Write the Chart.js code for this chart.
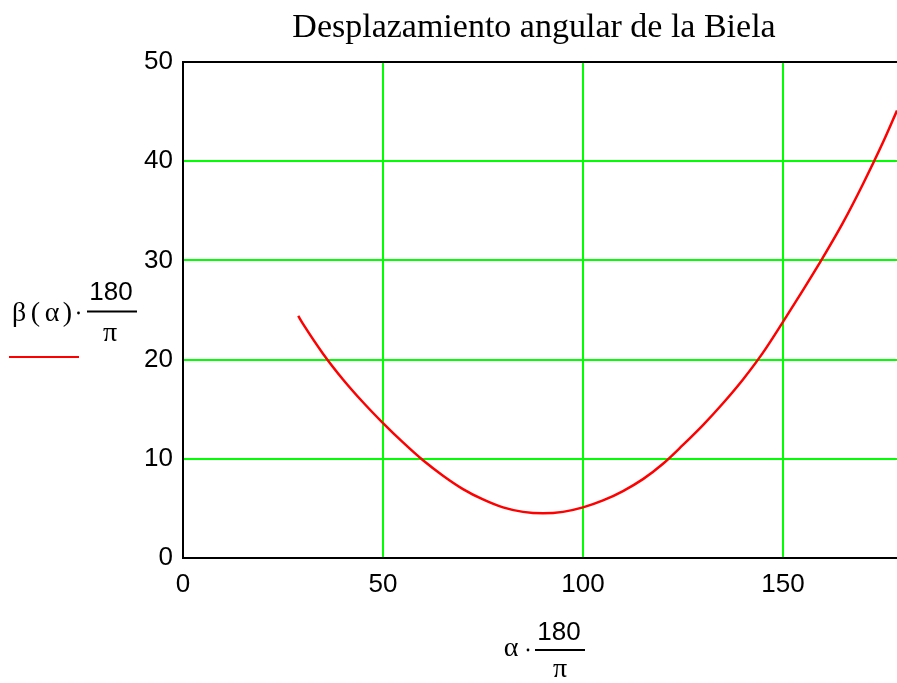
<!DOCTYPE html>
<html>
<head>
<meta charset="utf-8">
<script src="https://cdn.jsdelivr.net/npm/chart.js@4/dist/chart.umd.min.js"></script>
<style>
  html, body { margin: 0; padding: 0; background: #fff; }
  #wrap { width: 897px; height: 683px; position: relative; }
</style>
</head>
<body>
<div id="wrap"><canvas id="chart"></canvas></div>
<script>
// Desplazamiento angular de la biela (degrees)
const alphaDeg = [28.8, 30, 35, 40, 45, 50, 55, 60, 65, 70, 75, 80, 85, 90, 95, 100, 105, 110,
                  115, 120, 125, 130, 135, 140, 145, 150, 155, 160, 165, 170, 175, 178.5];
const betaDeg  = [24.4, 23.6, 20.6, 18.0, 15.7, 13.6, 11.65, 9.85, 8.3, 6.95, 5.9, 5.1, 4.65, 4.5, 4.65, 5.1, 5.8, 6.75,
                  7.95, 9.5, 11.4, 13.4, 15.6, 18.0, 20.7, 23.8, 27.0, 30.3, 33.8, 37.7, 41.9, 45.1];

const titleText = 'Desplazamiento angular de la Biela';
const xRange = [0, 178.5];
const yRange = [0, 50];
const xStep = 50;
const yStep = 10;

const points = alphaDeg.map((a, i) => ({ x: a, y: betaDeg[i] }));

const SANS = "'Liberation Sans', Arial, sans-serif";
const SERIF = "'Liberation Serif', 'Times New Roman', serif";

// title, top frame line, Mathcad-style axis labels and legend stroke
const decorations = {
    id: 'decorations',
    afterDraw(chart) {
        const c = chart.ctx;
        const area = chart.chartArea;
        c.save();

        // top frame line
        c.strokeStyle = '#000';
        c.lineWidth = 2;
        c.beginPath();
        c.moveTo(area.left - 1, area.top);
        c.lineTo(area.right, area.top);
        c.stroke();

        c.fillStyle = '#000';
        c.textBaseline = 'alphabetic';
        c.textAlign = 'center';

        // title
        c.font = '34px ' + SERIF;
        c.fillText(titleText, 534, 37);

        // y label: beta(alpha) * 180/pi
        c.font = '28px ' + SERIF;
        c.fillText('\u03B2', 19, 321);
        c.fillText('(', 35.5, 321);
        c.fillText('\u03B1', 52, 321);
        c.fillText(')', 67.5, 321);
        c.beginPath();
        c.arc(78.5, 313, 1.4, 0, Math.PI * 2);
        c.fill();
        c.font = '26px ' + SANS;
        c.fillText('180', 111, 300);
        c.font = '28px ' + SERIF;
        c.fillText('\u03C0', 110, 341);
        c.fillRect(87, 310.5, 50, 2);

        // legend stroke
        c.strokeStyle = '#ff0000';
        c.lineWidth = 2;
        c.beginPath();
        c.moveTo(9, 357);
        c.lineTo(79, 357);
        c.stroke();

        // x label: alpha * 180/pi
        c.fillStyle = '#000';
        c.font = '28px ' + SERIF;
        c.fillText('\u03B1', 511, 656);
        c.beginPath();
        c.arc(528, 650, 1.4, 0, Math.PI * 2);
        c.fill();
        c.font = '26px ' + SANS;
        c.fillText('180', 559, 640);
        c.font = '28px ' + SERIF;
        c.fillText('\u03C0', 560, 677);
        c.fillRect(535, 649, 50, 2);

        c.restore();
    }
};

new Chart(document.getElementById('chart'), {
    type: 'scatter',
    data: {
        datasets: [{
            data: points,
            showLine: true,
            borderColor: '#ff0000',
            borderWidth: 2.5,
            pointRadius: 0,
            cubicInterpolationMode: 'monotone',
            fill: false
        }]
    },
    options: {
        responsive: true,
        maintainAspectRatio: false,
        animation: false,
        layout: { padding: { top: 62, left: 0, right: 0, bottom: 0 } },
        plugins: {
            legend: { display: false },
            tooltip: { enabled: false },
            title: { display: false }
        },
        scales: {
            x: {
                type: 'linear',
                min: xRange[0],
                max: xRange[1],
                afterFit: (s) => { s.height = 125; },
                ticks: {
                    stepSize: xStep,
                    includeBounds: false,
                    color: '#000',
                    padding: 11,
                    maxRotation: 0,
                    font: { family: SANS, size: 26 }
                },
                grid: { color: '#00ff00', lineWidth: 2, drawTicks: false },
                border: { color: '#000', width: 2 }
            },
            y: {
                type: 'linear',
                min: yRange[0],
                max: yRange[1],
                afterFit: (s) => { s.width = 183; },
                ticks: {
                    stepSize: yStep,
                    color: '#000',
                    padding: 10,
                    font: { family: SANS, size: 26 }
                },
                grid: { color: '#00ff00', lineWidth: 2, drawTicks: false },
                border: { color: '#000', width: 2 }
            }
        }
    },
    plugins: [decorations]
});
</script>
</body>
</html>
